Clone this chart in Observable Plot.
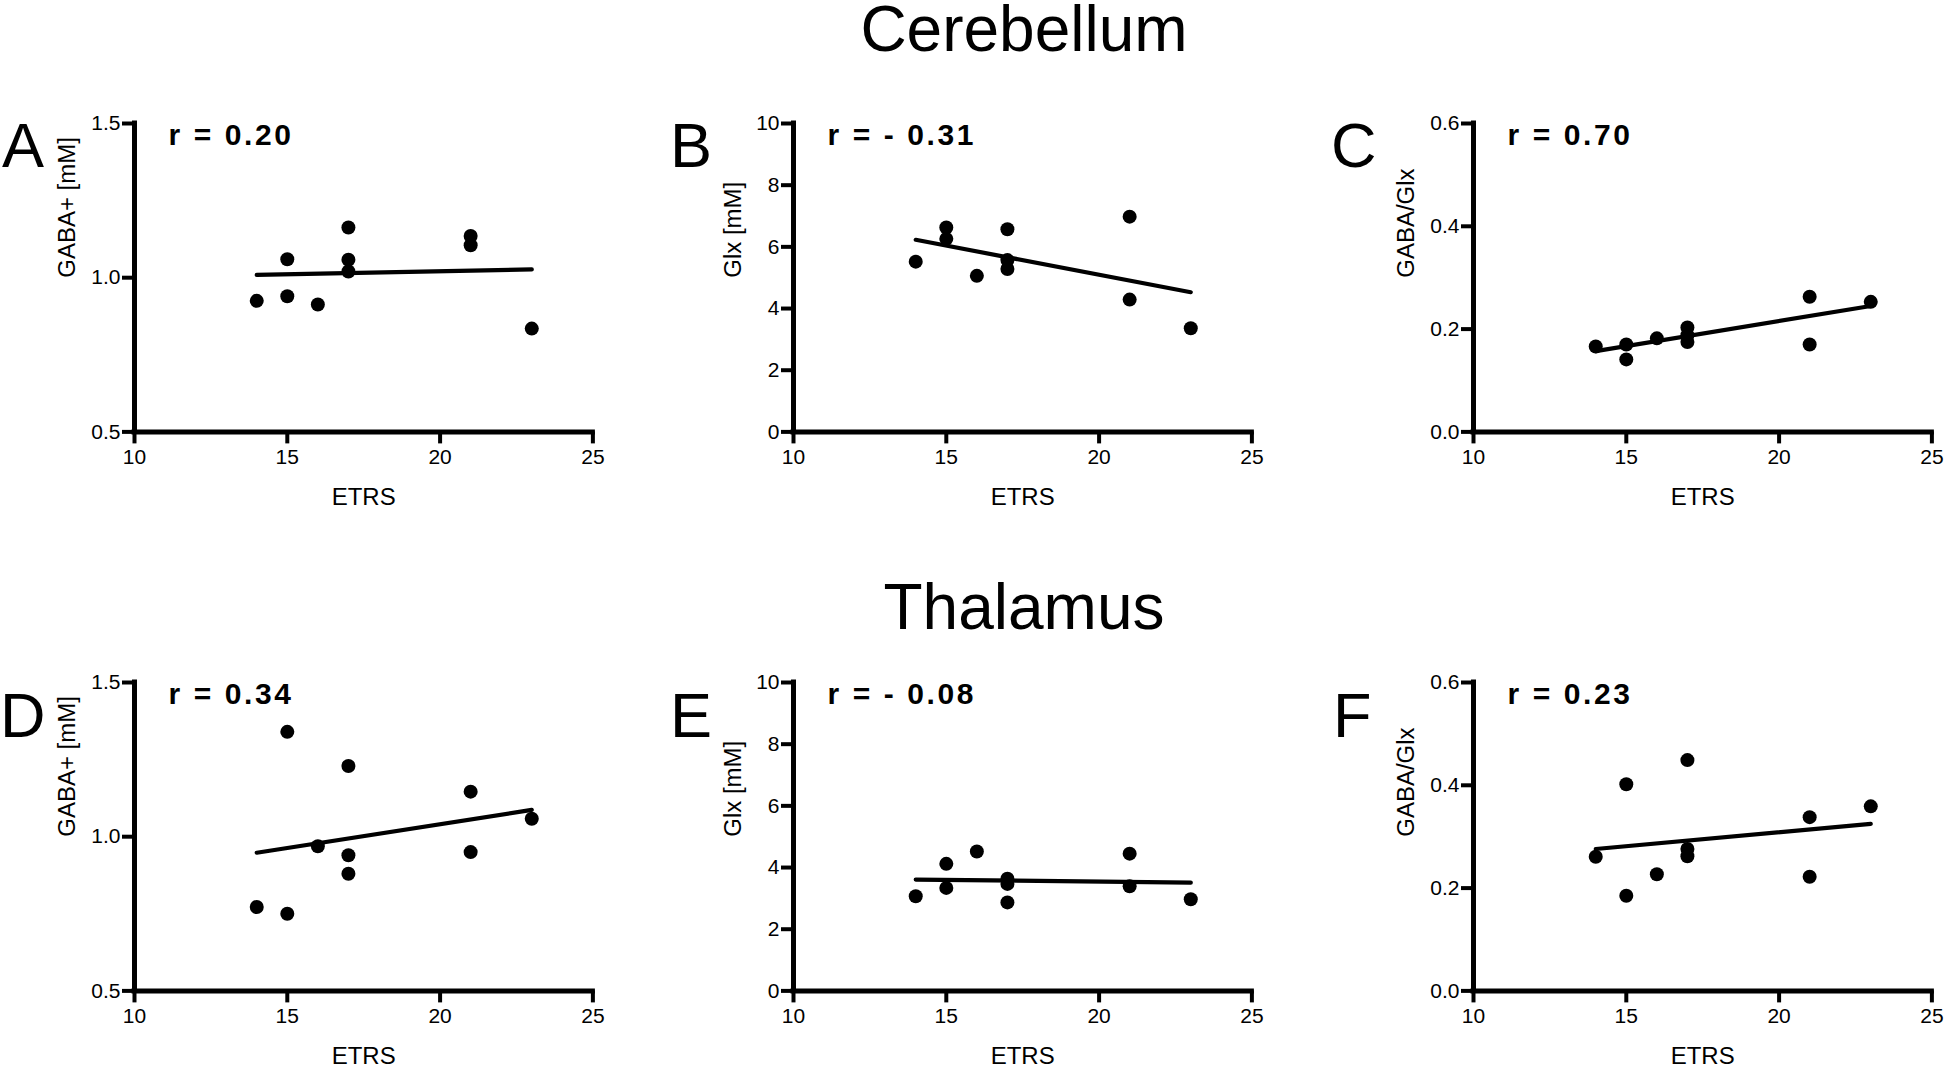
<!DOCTYPE html>
<html><head><meta charset="utf-8">
<script src="https://cdn.jsdelivr.net/npm/d3@7"></script>
<script src="https://cdn.jsdelivr.net/npm/@observablehq/plot@0.6"></script>
<style>
html,body{margin:0;padding:0;background:#fff;width:1946px;height:1065px;overflow:hidden;}
#root{position:relative;width:1946px;height:1065px;font-family:'Liberation Sans',Arial,sans-serif;}
.panel{position:absolute;}
#overlay{position:absolute;left:0;top:0;pointer-events:none;}
</style></head><body><div id="root"></div>
<script>
// ETRS score of each participant (x values shared by all panels)
const etrs = [14, 15, 15, 16, 17, 17, 17, 21, 21, 23];
// Cerebellum
const gabaCereb  = [0.925, 1.06, 0.94, 0.913, 1.163, 1.058, 1.02, 1.135, 1.105, 0.835];
const glxCereb   = [5.52, 6.63, 6.26, 5.06, 6.57, 5.57, 5.28, 6.98, 4.29, 3.36];
const ratioCereb = [0.166, 0.170, 0.141, 0.182, 0.203, 0.188, 0.175, 0.263, 0.170, 0.253];
// Thalamus
const gabaThal   = [0.772, 1.34, 0.75, 0.969, 1.229, 0.94, 0.88, 1.146, 0.95, 1.058];
const glxThal    = [3.07, 4.12, 3.34, 4.52, 3.64, 3.47, 2.87, 4.45, 3.39, 2.97];
const ratioThal  = [0.261, 0.402, 0.185, 0.227, 0.449, 0.276, 0.262, 0.338, 0.222, 0.359];
// Regression line ends, at ETRS = fitX
const fitX = [14, 23];
const fitGabaCereb  = [1.009, 1.027];
const fitGlxCereb   = [6.23, 4.53];
const fitRatioCereb = [0.157, 0.245];
const fitGabaThal   = [0.948, 1.087];
const fitGlxThal    = [3.61, 3.51];
const fitRatioThal  = [0.276, 0.325];
// Correlation labels
const rLabels = ["r = 0.20", "r = - 0.31", "r = 0.70", "r = 0.34", "r = - 0.08", "r = 0.23"];
const panelLetters = ["A", "B", "C", "D", "E", "F"];
const sectionTitles = ["Cerebellum", "Thalamus"];
// Axes
const xDomain = [10, 25];
const xTicks = [10, 15, 20, 25];
const xLabel = "ETRS";
const gabaTicks = [0.5, 1.0, 1.5];
const glxTicks = [0, 2, 4, 6, 8, 10];
const ratioTicks = [0.0, 0.2, 0.4, 0.6];
const yLabels = ["GABA+ [mM]", "Glx [mM]", "GABA/Glx"];

const FONT = "'Liberation Sans', Arial, sans-serif";
const ML = 110, MT = 40, MR = 14, MB = 90, PW = 458.4, PH = 308.4;
const colX = [134.3, 793.3, 1472.7];
const rowY = [123.3, 681.7];
const labelDx = [-67, -60, -67];

const specs = [
  {y: gabaCereb,  fit: fitGabaCereb,  ticks: gabaTicks,  fmt: ".1f", col: 0, row: 0},
  {y: glxCereb,   fit: fitGlxCereb,   ticks: glxTicks,   fmt: "d",   col: 1, row: 0},
  {y: ratioCereb, fit: fitRatioCereb, ticks: ratioTicks, fmt: ".1f", col: 2, row: 0},
  {y: gabaThal,   fit: fitGabaThal,   ticks: gabaTicks,  fmt: ".1f", col: 0, row: 1},
  {y: glxThal,    fit: fitGlxThal,    ticks: glxTicks,   fmt: "d",   col: 1, row: 1},
  {y: ratioThal,  fit: fitRatioThal,  ticks: ratioTicks, fmt: ".1f", col: 2, row: 1}
];

const root = document.getElementById("root");

specs.forEach((p, i) => {
  const pts = etrs.map((x, j) => ({x, y: p.y[j]}));
  const fit = fitX.map((x, j) => ({x, y: p.fit[j]}));
  const yDomain = [p.ticks[0], p.ticks[p.ticks.length - 1]];
  const chart = Plot.plot({
    width: ML + PW + MR,
    height: MT + PH + MB,
    marginLeft: ML, marginTop: MT, marginRight: MR, marginBottom: MB,
    x: {domain: xDomain},
    y: {domain: yDomain},
    style: {fontFamily: FONT, background: "transparent", color: "#000", overflow: "visible", maxWidth: "none"},
    marks: [
      Plot.axisX({ticks: xTicks, tickSize: 12, tickPadding: 5, stroke: "#000", strokeWidth: 4, fontSize: 21, label: null, tickFormat: d3.format("d")}),
      Plot.axisY({ticks: p.ticks, tickSize: 12, tickPadding: 2, stroke: "#000", strokeWidth: 4, fontSize: 21, label: null, tickFormat: d3.format(p.fmt)}),
      Plot.ruleX([xDomain[0]], {stroke: "#000", strokeWidth: 5, strokeLinecap: "square"}),
      Plot.ruleY([yDomain[0]], {stroke: "#000", strokeWidth: 5, strokeLinecap: "square"}),
      Plot.line(fit, {x: "x", y: "y", stroke: "#000", strokeWidth: 4.2}),
      Plot.dot(pts, {x: "x", y: "y", r: 7, fill: "#000", stroke: "none"}),
      Plot.text([rLabels[i]], {text: d => d, frameAnchor: "top-left", textAnchor: "start", lineAnchor: "bottom", dx: 34, dy: 22, fontSize: 30, fontWeight: "bold"}),
      Plot.text([xLabel], {text: d => d, frameAnchor: "bottom", lineAnchor: "bottom", dy: 73, fontSize: 24}),
      Plot.text([yLabels[p.col]], {text: d => d, frameAnchor: "left", rotate: -90, dx: labelDx[p.col], fontSize: 24})
    ]
  });
  chart.querySelectorAll("text").forEach(t => {
    if (t.textContent.startsWith("r =")) t.style.letterSpacing = "2.6px";
  });
  const div = document.createElement("div");
  div.className = "panel";
  div.style.left = (colX[p.col] - ML) + "px";
  div.style.top = (rowY[p.row] - MT) + "px";
  div.style.width = (ML + PW + MR) + "px";
  div.appendChild(chart);
  root.appendChild(div);
});

// Section titles and panel letters
const ns = "http://www.w3.org/2000/svg";
const ov = document.createElementNS(ns, "svg");
ov.setAttribute("id", "overlay");
ov.setAttribute("width", 1946);
ov.setAttribute("height", 1065);
function addText(str, x, y, size, anchor) {
  const t = document.createElementNS(ns, "text");
  t.setAttribute("x", x); t.setAttribute("y", y);
  t.setAttribute("font-family", FONT);
  t.setAttribute("font-size", size);
  t.setAttribute("text-anchor", anchor);
  t.setAttribute("fill", "#000");
  t.textContent = str;
  ov.appendChild(t);
}
addText(sectionTitles[0], 1024, 51, 64, "middle");
addText(sectionTitles[1], 1024, 629, 64, "middle");
const letterPos = [[2, 167], [670, 167], [1331, 167], [0, 737], [670, 737], [1333, 737]];
panelLetters.forEach((L, i) => addText(L, letterPos[i][0], letterPos[i][1], 63, "start"));
root.appendChild(ov);
</script>
</body></html>
